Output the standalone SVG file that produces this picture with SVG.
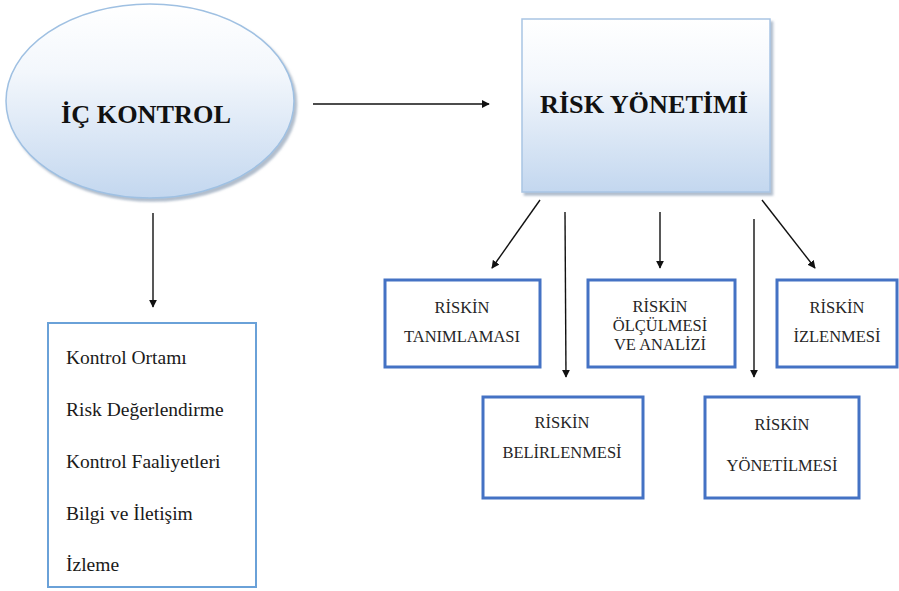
<svg xmlns="http://www.w3.org/2000/svg" width="899" height="591" viewBox="0 0 899 591">
<style>
.t{font-family:"Liberation Serif","Times New Roman",serif;fill:#1a1a1a;}
.big{font-size:25px;font-weight:bold;fill:#111;}
.sm{font-size:16.5px;text-anchor:middle;fill:#262626;}
.lst{font-size:19.5px;}
.bx{fill:#fff;stroke:#4472c4;stroke-width:3;}
.con{stroke:#111;stroke-width:1.4;fill:none;marker-end:url(#ah);}
</style>
<defs>
<linearGradient id="g" x1="0" y1="0" x2="0" y2="1">
<stop offset="0" stop-color="#ffffff"/>
<stop offset="0.35" stop-color="#f3f7fc"/>
<stop offset="1" stop-color="#c3d7ef"/>
</linearGradient>
<marker id="ah" viewBox="0 0 10 10" refX="9" refY="5" markerWidth="8" markerHeight="8" markerUnits="userSpaceOnUse" orient="auto">
<path d="M0,0 L10,5 L0,10 z" fill="#111"/>
</marker>
<filter id="sh" x="-10%" y="-10%" width="120%" height="120%">
<feDropShadow dx="2.5" dy="3" stdDeviation="1.2" flood-color="#7f93aa" flood-opacity="0.6"/>
</filter>
</defs>
<g id="ic-kontrol">
<ellipse cx="150" cy="101" rx="144" ry="97" fill="url(#g)" stroke="#9fc0e2" stroke-width="1.5" filter="url(#sh)"/>
<text class="t big" x="146" y="123" text-anchor="middle" textLength="170" lengthAdjust="spacingAndGlyphs">İÇ KONTROL</text>
</g>
<g id="risk-yonetimi">
<rect x="522" y="19" width="248" height="173" fill="url(#g)" stroke="#a9c5e4" stroke-width="1.5" filter="url(#sh)"/>
<text class="t big" x="644" y="113" text-anchor="middle" textLength="208" lengthAdjust="spacingAndGlyphs">RİSK YÖNETİMİ</text>
</g>
<g id="bilesenler">
<rect x="48" y="323" width="208" height="264" fill="#fff" stroke="#6aa1d8" stroke-width="2"/>
<text class="t lst" x="66" y="364">Kontrol Ortamı</text>
<text class="t lst" x="66" y="416">Risk Değerlendirme</text>
<text class="t lst" x="66" y="468">Kontrol Faaliyetleri</text>
<text class="t lst" x="66" y="520">Bilgi ve İletişim</text>
<text class="t lst" x="66" y="571">İzleme</text>
</g>
<g id="tanimlama">
<rect class="bx" x="385" y="280" width="155" height="87"/>
<text class="t sm" x="462" y="313">RİSKİN</text>
<text class="t sm" x="462" y="342">TANIMLAMASI</text>
</g>
<g id="olcum">
<rect class="bx" x="588" y="280" width="147" height="87"/>
<text class="t sm" x="660" y="312">RİSKİN</text>
<text class="t sm" x="660" y="331">ÖLÇÜLMESİ</text>
<text class="t sm" x="660" y="350">VE ANALİZİ</text>
</g>
<g id="izleme">
<rect class="bx" x="777" y="280" width="120" height="87"/>
<text class="t sm" x="837" y="313">RİSKİN</text>
<text class="t sm" x="837" y="342">İZLENMESİ</text>
</g>
<g id="belirleme">
<rect class="bx" x="483" y="397" width="160" height="101"/>
<text class="t sm" x="562" y="428">RİSKİN</text>
<text class="t sm" x="562" y="458">BELİRLENMESİ</text>
</g>
<g id="yonetim">
<rect class="bx" x="705" y="397" width="154" height="101"/>
<text class="t sm" x="782" y="430">RİSKİN</text>
<text class="t sm" x="782" y="471">YÖNETİLMESİ</text>
</g>
<g id="connectors">
<line class="con" x1="313" y1="104" x2="489" y2="104"/>
<line class="con" x1="153" y1="213" x2="153" y2="307"/>
<line class="con" x1="540" y1="200" x2="492" y2="268"/>
<line class="con" x1="565" y1="212" x2="566" y2="377"/>
<line class="con" x1="660" y1="212" x2="660" y2="268"/>
<line class="con" x1="754" y1="219" x2="754" y2="377"/>
<line class="con" x1="762" y1="200" x2="815" y2="268"/>
</g>
</svg>
